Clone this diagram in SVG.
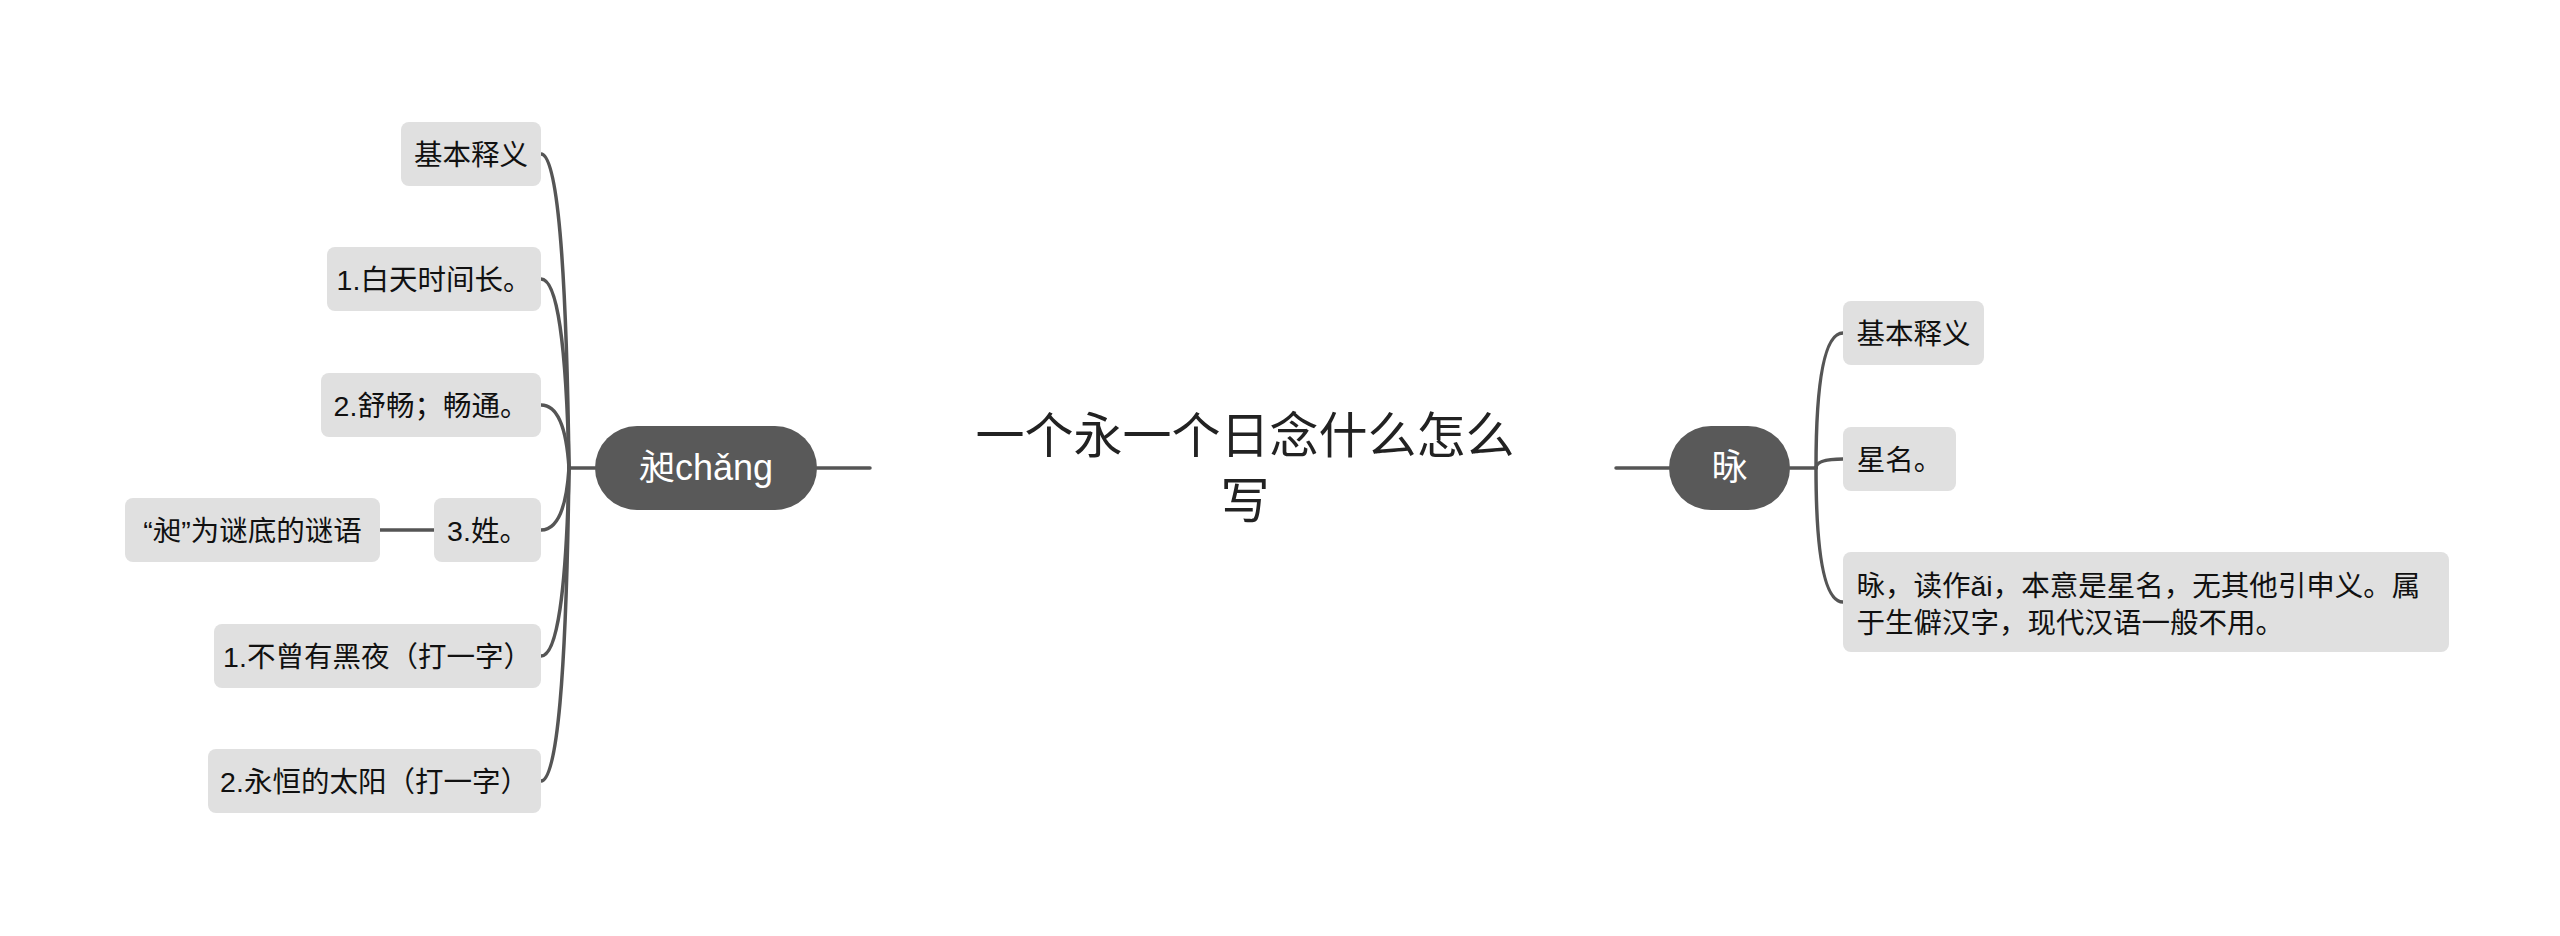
<svg xmlns="http://www.w3.org/2000/svg" width="2560" height="936" viewBox="0 0 2560 936">
<defs>
<style>
.bg{fill:#ffffff}
.leaf{fill:#e0e0e0}
.main{fill:#595959}
.t{font-family:"Liberation Sans","Noto Sans CJK SC",sans-serif;font-size:28.5px;fill:#111111}
.tm{font-family:"Liberation Sans","Noto Sans CJK SC",sans-serif;font-size:36px;fill:#ffffff;text-anchor:middle}
.title{font-family:"Liberation Sans","Noto Sans CJK SC",sans-serif;font-size:49px;fill:#222222;text-anchor:middle}
.c{fill:none;stroke:#555555;stroke-width:3.5;stroke-linecap:round}
.mid{text-anchor:middle}
</style>
</defs>
<rect class="bg" x="0" y="0" width="2560" height="936"/>
<g id="connectors">
<path class="c" d="M817 468 L870 468"/>
<path class="c" d="M1616 468 L1669 468"/>
<path class="c" d="M595 468 L569 468"/>
<path class="c" d="M569 468 Q565 154 541 154"/>
<path class="c" d="M569 468 Q565 279 541 279"/>
<path class="c" d="M569 468 Q565 405 541 405"/>
<path class="c" d="M569 468 Q565 530 541 530"/>
<path class="c" d="M569 468 Q565 656 541 656"/>
<path class="c" d="M569 468 Q565 781 541 781"/>
<path class="c" d="M380 530 L434 530"/>
<path class="c" d="M1790 468 L1816 468"/>
<path class="c" d="M1816 468 Q1816 333 1843 333"/>
<path class="c" d="M1816 468 Q1816 459 1843 459"/>
<path class="c" d="M1816 468 Q1816 602 1843 602"/>
</g>
<g id="title">
<text class="title" x="1245" y="453">一个永一个日念什么怎么</text>
<text class="title" x="1245" y="518">写</text>
</g>
<g id="node-chang">
<rect class="main" x="595" y="426" width="222" height="84" rx="42"/>
<text class="tm" x="706" y="480">昶chǎng</text>
</g>
<g id="node-ai">
<rect class="main" x="1669" y="426" width="121" height="84" rx="42"/>
<text class="tm" x="1729.5" y="480">昹</text>
</g>
<g id="node-l1">
<rect class="leaf" x="401" y="122" width="140" height="64" rx="8"/>
<text class="t mid" x="471" y="165">基本释义</text>
</g>
<g id="node-l2">
<rect class="leaf" x="327" y="247" width="214" height="64" rx="8"/>
<text class="t mid" x="434" y="290">1.白天时间长。</text>
</g>
<g id="node-l3">
<rect class="leaf" x="321" y="373" width="220" height="64" rx="8"/>
<text class="t mid" x="431" y="416">2.舒畅；畅通。</text>
</g>
<g id="node-l4">
<rect class="leaf" x="434" y="498" width="107" height="64" rx="8"/>
<text class="t mid" x="487.5" y="541">3.姓。</text>
</g>
<g id="node-l4a">
<rect class="leaf" x="125" y="498" width="255" height="64" rx="8"/>
<text class="t mid" x="252.5" y="541">“昶”为谜底的谜语</text>
</g>
<g id="node-l5">
<rect class="leaf" x="214" y="624" width="327" height="64" rx="8"/>
<text class="t mid" x="377.5" y="667">1.不曾有黑夜（打一字）</text>
</g>
<g id="node-l6">
<rect class="leaf" x="208" y="749" width="333" height="64" rx="8"/>
<text class="t mid" x="374.5" y="792">2.永恒的太阳（打一字）</text>
</g>
<g id="node-r1">
<rect class="leaf" x="1843" y="301" width="141" height="64" rx="8"/>
<text class="t mid" x="1913.5" y="344">基本释义</text>
</g>
<g id="node-r2">
<rect class="leaf" x="1843" y="427" width="113" height="64" rx="8"/>
<text class="t mid" x="1899.5" y="470">星名。</text>
</g>
<g id="node-r3">
<rect class="leaf" x="1843" y="552" width="606" height="100" rx="8"/>
<text class="t" x="1856.5" y="596">昹，读作ǎi，本意是星名，无其他引申义。属</text>
<text class="t" x="1856.5" y="633">于生僻汉字，现代汉语一般不用。</text>
</g>
</svg>
